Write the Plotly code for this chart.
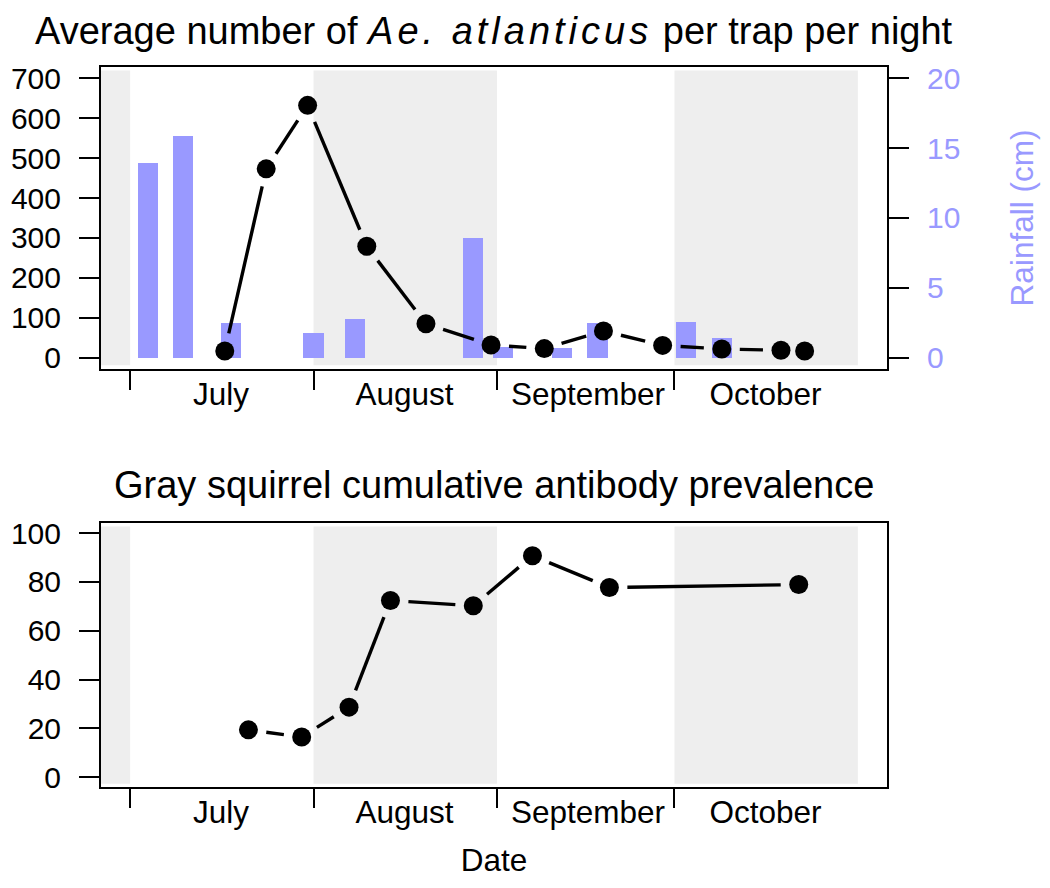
import math
import pandas as pd
import plotly.graph_objects as go

# --- data ------------------------------------------------------------------
rain_dates = ["2013-07-04", "2013-07-10", "2013-07-18", "2013-08-01", "2013-08-08",
              "2013-08-28", "2013-09-02", "2013-09-12", "2013-09-18", "2013-10-03",
              "2013-10-09"]
rain_cm = [13.9, 15.9, 2.5, 1.8, 2.8, 8.6, 0.8, 0.7, 2.5, 2.55, 1.4]

mosq_dates = ["2013-07-17", "2013-07-24", "2013-07-31", "2013-08-10", "2013-08-20",
              "2013-08-31", "2013-09-09", "2013-09-19", "2013-09-29", "2013-10-09",
              "2013-10-19", "2013-10-23"]
mosq_counts = [17, 473, 632, 279, 85, 32, 23, 67, 31, 22, 19, 17]

sq_dates = ["2013-07-21", "2013-07-30", "2013-08-07", "2013-08-14", "2013-08-28",
            "2013-09-07", "2013-09-20", "2013-10-22"]
sq_prevalence = [19.4, 16.5, 28.7, 72.4, 70.2, 90.7, 77.7, 78.9]

month_starts = ["2013-07-01", "2013-08-01", "2013-09-01", "2013-10-01"]
month_names = ["July", "August", "September", "October"]
shaded_months = [("2013-06-01", "2013-07-01"), ("2013-08-01", "2013-09-01"),
                 ("2013-10-01", "2013-11-01")]

# --- geometry (page has an 8px body margin) -------------------------------------
W, H = 1042, 880
M = dict(l=93, r=163, t=59, b=101)
plot_w = W - M["l"] - M["r"]
plot_h = H - M["t"] - M["b"]
top_dom = [0.5806, 1.0]
bot_dom = [0.0, 0.3663]

x_start = pd.Timestamp("2013-07-01") - pd.Timedelta(days=0.04 * 123)
x_end = pd.Timestamp("2013-11-01") + pd.Timedelta(days=0.04 * 123)
x_range = [x_start, x_end]
range_days = (x_end - x_start) / pd.Timedelta(days=1)

mosq_range = [-28, 728]
rain_range = [-0.8, 20.8]
prev_range = [-4, 104]

BAR = "#9999ff"
FONT = "Liberation Sans"
FS = 31.5
YFS = 30
TITLE_FS = 38


def gapped(dates, vals, yrange, dom, gap=18):
    """R type='b' style: line segments that stop short of each point."""
    ppx = plot_w / range_days
    ppy = plot_h * (dom[1] - dom[0]) / (yrange[1] - yrange[0])
    days = [(pd.Timestamp(d) - x_start) / pd.Timedelta(days=1) for d in dates]
    xs, ys = [], []
    for i in range(len(days) - 1):
        dx = (days[i + 1] - days[i]) * ppx
        dy = (vals[i + 1] - vals[i]) * ppy
        L = math.hypot(dx, dy)
        if L <= 2 * gap:
            continue
        t = gap / L
        for f in (t, 1 - t):
            xs.append(x_start + pd.Timedelta(days=days[i] + f * (days[i + 1] - days[i])))
            ys.append(vals[i] + f * (vals[i + 1] - vals[i]))
        xs.append(None)
        ys.append(None)
    return xs, ys


fig = go.Figure()

# rainfall bars (base axis y, right side)
fig.add_trace(go.Bar(
    x=pd.to_datetime(rain_dates), y=rain_cm, xaxis="x", yaxis="y",
    width=3.4 * 86400000, marker=dict(color=BAR, line=dict(width=0)),
    showlegend=False,
))

# mosquito counts (overlaying axis y2, left side)
lx, ly = gapped(mosq_dates, mosq_counts, mosq_range, top_dom)
fig.add_trace(go.Scatter(x=lx, y=ly, mode="lines", xaxis="x", yaxis="y2",
                         line=dict(color="black", width=3.4), showlegend=False))
fig.add_trace(go.Scatter(x=pd.to_datetime(mosq_dates), y=mosq_counts, mode="markers",
                         xaxis="x", yaxis="y2",
                         marker=dict(color="black", size=19), showlegend=False))

# squirrel prevalence
lx, ly = gapped(sq_dates, sq_prevalence, prev_range, bot_dom)
fig.add_trace(go.Scatter(x=lx, y=ly, mode="lines", xaxis="x2", yaxis="y3",
                         line=dict(color="black", width=3.4), showlegend=False))
fig.add_trace(go.Scatter(x=pd.to_datetime(sq_dates), y=sq_prevalence, mode="markers",
                         xaxis="x2", yaxis="y3",
                         marker=dict(color="black", size=19), showlegend=False))

# gray month shading
for xr, yr in (("x", "y"), ("x2", "y3")):
    for a, b in shaded_months:
        fig.add_shape(type="rect", xref=xr, yref=yr + " domain",
                      x0=max(pd.Timestamp(a), x_start), x1=b, y0=0.012, y1=0.988,
                      fillcolor="#eeeeee", line=dict(width=0), layer="below")

xaxis_style = dict(
    type="date", range=x_range, tickmode="array", tickvals=month_starts,
    ticktext=month_names, ticks="outside", ticklen=19, tickwidth=2,
    tickcolor="black", ticklabelshift=91, ticklabelstandoff=-23,
    showline=True, linecolor="black", linewidth=2, mirror=True,
    showgrid=False, zeroline=False, automargin=False,
    tickfont=dict(family=FONT, size=FS, color="black"),
)
yaxis_style = dict(
    ticks="outside", ticklen=20, tickwidth=2, tickcolor="black",
    ticklabelstandoff=12, showline=True, linecolor="black", linewidth=2,
    mirror=True, showgrid=False, zeroline=False, automargin=False,
    tickfont=dict(family=FONT, size=YFS, color="black"),
)

fig.update_layout(
    width=W, height=H, margin=M,
    paper_bgcolor="white", plot_bgcolor="white",
    bargap=0,
    font=dict(family=FONT, size=FS, color="black"),
    xaxis=dict(xaxis_style, anchor="y"),
    xaxis2=dict(xaxis_style, anchor="y3",
                title=dict(text="Date", standoff=20,
                           font=dict(family=FONT, size=FS))),
    yaxis=dict(yaxis_style, domain=top_dom, anchor="x", side="right",
               range=rain_range, tickvals=[0, 5, 10, 15, 20],
               tickfont=dict(family=FONT, size=YFS, color=BAR),
               title=dict(text="Rainfall (cm)", standoff=52,
                          font=dict(family=FONT, size=FS, color=BAR))),
    yaxis2=dict(yaxis_style, overlaying="y", side="left", anchor="x",
                range=mosq_range, tickvals=[0, 100, 200, 300, 400, 500, 600, 700]),
    yaxis3=dict(yaxis_style, domain=bot_dom, anchor="x2",
                range=prev_range, tickvals=[0, 20, 40, 60, 80, 100]),
    annotations=[
        dict(text="Average number of <span style='letter-spacing:4px'><i>Ae. atlanticus</i></span> per trap per night",
             xref="paper", yref="paper", x=0.5, y=(H - M["b"] - 23) / plot_h,
             xanchor="center", yanchor="middle", showarrow=False,
             font=dict(family=FONT, size=TITLE_FS)),
        dict(text="Gray squirrel cumulative antibody prevalence",
             xref="paper", yref="paper", x=0.5, y=(H - M["b"] - 477) / plot_h,
             xanchor="center", yanchor="middle", showarrow=False,
             font=dict(family=FONT, size=TITLE_FS)),
    ],
)

fig.write_html("out.html")
